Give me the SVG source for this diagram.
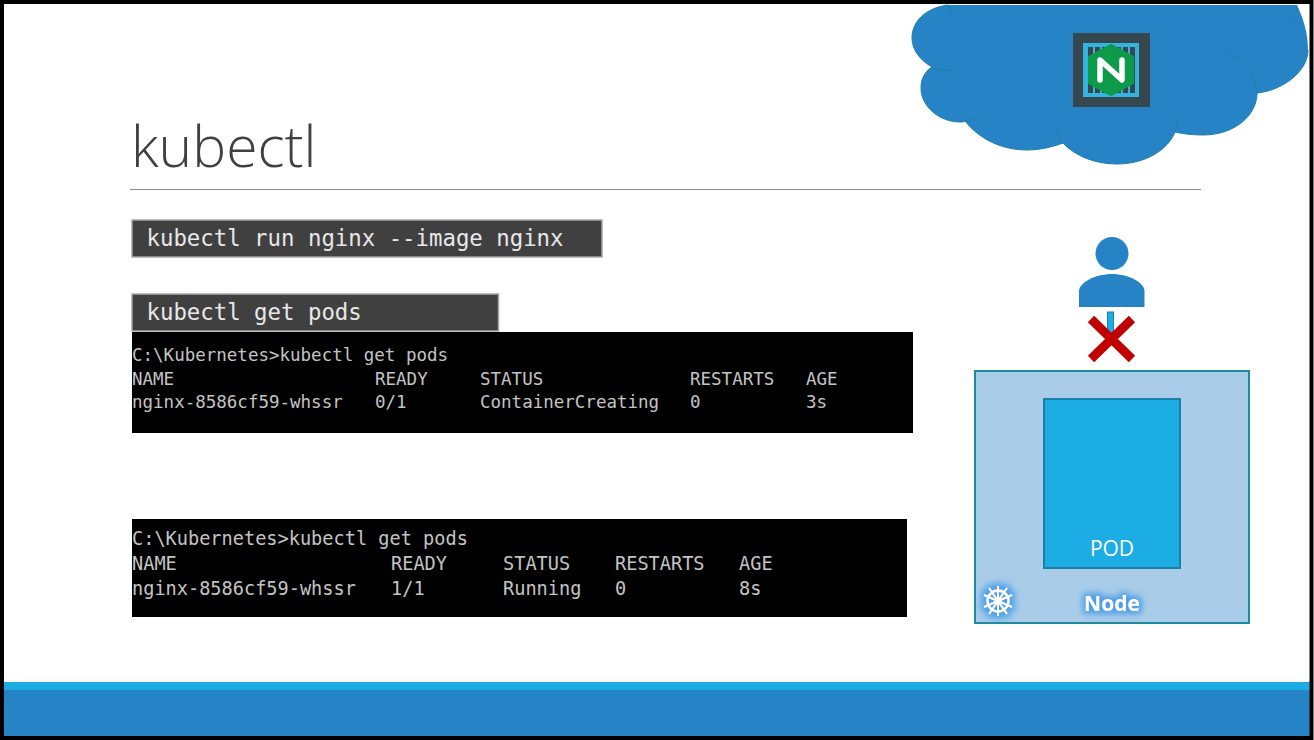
<svg xmlns="http://www.w3.org/2000/svg" width="1314" height="740" viewBox="0 0 1314 740">
<style>
.cmd{font-family:"DejaVu Sans Mono","Liberation Mono",monospace;font-size:22.35px;fill:#e8e8e8}
.cmdbox{fill:#404040;stroke:#a6a6a6;stroke-width:1.5}
.t1{font-family:"DejaVu Sans Mono","Liberation Mono",monospace;font-size:17.5px;fill:#c4c4c4}
.t2{font-family:"DejaVu Sans Mono","Liberation Mono",monospace;font-size:18.6px;fill:#c4c4c4}
.cl{fill:none;stroke:#1f7fa6;stroke-width:1}
.lbl{font-family:"Open Sans","Noto Sans",sans-serif;fill:#fff;text-anchor:middle}
</style>
<defs>
<filter id="glow" x="-40%" y="-60%" width="180%" height="220%">
<feMorphology in="SourceAlpha" operator="dilate" radius="3" result="m"/>
<feGaussianBlur in="m" stdDeviation="3" result="b"/>
<feFlood flood-color="#4a9fe8"/>
<feComposite in2="b" operator="in" result="c"/>
<feMerge><feMergeNode in="c"/><feMergeNode in="SourceGraphic"/></feMerge>
</filter>
</defs>
<rect width="1314" height="740" fill="#fff"/>

<g id="footer">
<rect x="4" y="682" width="1306" height="8" fill="#1cade4"/>
<rect x="4" y="690" width="1306" height="47" fill="#2683c6"/>
</g>

<g id="cloud">
<path d="M948 5C925 8 912 22 912 38C912 50 920 60 932 67C924 72 921 80 921 88C921 107 940 122 960 122C962 122 964 122 965 121C980 140 1003 150 1027 150C1040 150 1052 147 1063 143C1075 156 1095 164 1117 164C1145 164 1168 150 1175 132C1183 134 1193 135 1203 135C1235 135 1257 115 1257 93C1285 90 1308 70 1308 50C1308 32 1303 18 1297 5Z" fill="#2683c6"/>
<path class="cl" d="M948 5C925 8 912 22 912 38C912 50 920 60 932 67C924 72 921 80 921 88C921 107 940 122 960 122C962 122 964 122 965 121C980 140 1003 150 1027 150C1040 150 1052 147 1063 143C1075 156 1095 164 1117 164C1145 164 1168 150 1175 132C1183 134 1193 135 1203 135C1235 135 1257 115 1257 93C1285 90 1308 70 1308 50M948 5C949 9 950 12 951 14M932 67C938 70 947 71 956 70M965 121C969 121 972 120 976 118M1057 130C1058 135 1060 140 1063 143M1175 132C1176 127 1177 122 1177 117M1226 52C1245 60 1256 75 1257 93M1298 8C1296 15 1290 22 1282 27"/>
</g>

<g id="nginx-icon">
<rect x="1073" y="33" width="77" height="74" fill="#36474f"/>
<rect x="1083" y="43" width="56" height="54" fill="#33b5e0"/>
<g fill="#36474f">
<rect x="1088" y="47" width="5" height="46"/><rect x="1095" y="47" width="5" height="46"/><rect x="1102" y="47" width="5" height="46"/><rect x="1109" y="47" width="5" height="46"/><rect x="1116" y="47" width="5" height="46"/><rect x="1123" y="47" width="5" height="46"/><rect x="1130" y="47" width="5" height="46"/>
</g>
<polygon points="1111,45 1133,57 1133,83 1111,95 1089,83 1089,57" fill="#0d9a49" stroke="#0d9a49" stroke-width="2" stroke-linejoin="round"/>
<path d="M1100 80V60L1122 80V60" fill="none" stroke="#fff" stroke-width="5.5" stroke-linejoin="round" stroke-linecap="round"/>
</g>

<g id="title">
<text x="131" y="167" font-family="'Open Sans','Noto Sans',sans-serif" font-weight="300" font-size="57" fill="#404040">kubectl</text>
<line x1="130" y1="189.500" x2="1201" y2="189.500" stroke="#8c8c8c" stroke-width="1"/>
</g>

<g id="cmd-run">
<rect class="cmdbox" x="132" y="220" width="470" height="37"/>
<text class="cmd" x="146.500" y="246">kubectl run nginx --image nginx</text>
</g>

<g id="cmd-get">
<rect class="cmdbox" x="132" y="294" width="366.500" height="37"/>
<text class="cmd" x="146.500" y="320">kubectl get pods</text>
</g>

<g id="terminal-1">
<rect x="132" y="332" width="781" height="101" fill="#000"/>
<text class="t1" x="132" y="361">C:\Kubernetes&gt;kubectl get pods</text>
<text class="t1" y="385"><tspan x="132">NAME</tspan><tspan x="375">READY</tspan><tspan x="480">STATUS</tspan><tspan x="690">RESTARTS</tspan><tspan x="806">AGE</tspan></text>
<text class="t1" y="408"><tspan x="132">nginx-8586cf59-whssr</tspan><tspan x="375">0/1</tspan><tspan x="480">ContainerCreating</tspan><tspan x="690">0</tspan><tspan x="806">3s</tspan></text>
</g>

<g id="terminal-2">
<rect x="132" y="519" width="775" height="98" fill="#000"/>
<text class="t2" x="132" y="545">C:\Kubernetes&gt;kubectl get pods</text>
<text class="t2" y="570"><tspan x="132">NAME</tspan><tspan x="391">READY</tspan><tspan x="503">STATUS</tspan><tspan x="615">RESTARTS</tspan><tspan x="739">AGE</tspan></text>
<text class="t2" y="595"><tspan x="132">nginx-8586cf59-whssr</tspan><tspan x="391">1/1</tspan><tspan x="503">Running</tspan><tspan x="615">0</tspan><tspan x="739">8s</tspan></text>
</g>

<g id="user">
<circle cx="1112" cy="253.500" r="16.500" fill="#2683c6"/>
<path d="M1079 307V291C1079 283 1095 274 1112 274C1129 274 1144.500 283 1144.500 291V307Z" fill="#2683c6"/>
</g>

<g id="connectors">
<rect x="1107.500" y="312" width="6" height="22" fill="#1cade4" stroke="#1f7fa6" stroke-width="1"/>
<path d="M1091 319L1132 359M1132 319L1091 359" fill="none" stroke="#c00000" stroke-width="9"/>
</g>

<g id="node">
<rect x="975" y="371" width="274" height="252" fill="#a9cce8" stroke="#1f8a9c" stroke-width="2"/>
<g filter="url(#glow)">
<g fill="none" stroke="#fff">
<circle cx="998" cy="601" r="10.500" stroke-width="2.400"/>
<circle cx="998" cy="601" r="2.500" stroke-width="1.800"/>
<path stroke-width="2" d="M998 586V616M984 595L1012 607M1012 595L984 607M989 614L1007 588M1007 614L989 588"/>
</g>
</g>
<text class="lbl" x="1112" y="611" font-size="21" font-weight="700" filter="url(#glow)">Node</text>
</g>

<g id="pod">
<rect x="1044" y="399" width="136" height="169" fill="#1cade4" stroke="#1b7fa8" stroke-width="2"/>
<text class="lbl" x="1112" y="556" font-size="21">POD</text>
</g>

<rect x="2" y="2" width="1309.500" height="736" fill="none" stroke="#000" stroke-width="4"/>
</svg>
